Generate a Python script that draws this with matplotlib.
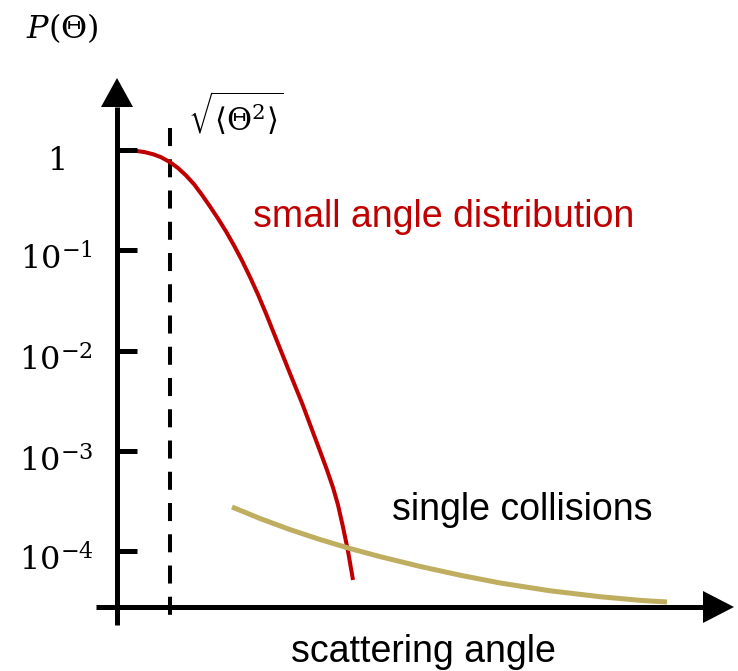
import numpy as np
import matplotlib.pyplot as plt
from matplotlib.patches import Polygon

plt.rcParams["font.family"] = ["Liberation Sans", "DejaVu Sans"]
plt.rcParams["mathtext.fontset"] = "dejavuserif"
plt.rcParams["lines.scale_dashes"] = False

W, H, DPI = 738, 671, 100

# multiple scattering: angle in units of the rms angle, probability on a log scale
small_theta = [0.000, 0.189, 0.377, 0.528, 0.679, 0.830, 1.000, 1.151, 1.302,
               1.453, 1.604, 1.755, 1.906, 2.057, 2.208, 2.358, 2.509, 2.660,
               2.811, 2.962, 3.113, 3.283, 3.491, 3.660, 3.830, 3.962, 4.075,
               4.170, 4.264, 4.358, 4.453]
small_p = [1.0, 0.993, 0.977, 0.951, 0.908, 0.848, 0.756, 0.661, 0.557,
           0.456, 0.356, 0.273, 0.207, 0.154, 0.1115, 0.0790, 0.0541, 0.0362,
           0.0234, 0.01478, 0.00934, 0.00557, 0.00299, 0.001725, 0.000994,
           0.000643, 0.000430, 0.000288, 0.0001735, 0.0001, 0.0000514]

# single collisions tail
single_theta = [2.170, 2.698, 3.264, 3.830, 4.396, 4.962, 5.717, 6.472,
                7.226, 8.170, 9.113, 9.868, 10.377]
single_p = [2.747e-4, 2.110e-4, 1.635e-4, 1.302e-4, 1.059e-4, 8.79e-5,
            7.02e-5, 5.74e-5, 4.80e-5, 4.01e-5, 3.50e-5, 3.22e-5, 3.10e-5]

rms_theta = 1.0
ytick_values = [1, 1e-1, 1e-2, 1e-3, 1e-4]
ytick_labels = [r"$1$", r"$10^{-1}$", r"$10^{-2}$", r"$10^{-3}$", r"$10^{-4}$"]

RED = "#C00000"
GOLD = "#BFAE5F"
AXIS_LW = 3.6

# pixel layout of the drawing
X0_PX, PX_PER_UNIT = 117, 53.0       # y axis position, pixels per rms angle
Y0_PX, PX_PER_DECADE = 150, 100.25   # P = 1 row, pixels per decade


def to_data(px, py):
    return (px - X0_PX) / PX_PER_UNIT, 10 ** (-(py - Y0_PX) / PX_PER_DECADE)


def fig_xy(px, py):
    return px / W, 1 - py / H


fig = plt.figure(figsize=(W / DPI, H / DPI), dpi=DPI)
ax = fig.add_axes([0, 0, 1, 1])
ax.set_yscale("log")
x_lo, y_top = to_data(0, 0)
x_hi, y_bot = to_data(W, H)
ax.set_xlim(x_lo, x_hi)
ax.set_ylim(y_bot, y_top)
ax.axis("off")

# axes with arrow heads
x_left, x_axis_y = to_data(96, 607)
x_tip, _ = to_data(703, 607)
_, y_bottom = to_data(117, 625)
_, y_tip = to_data(117, 107)
ax.plot([x_left, x_tip], [x_axis_y, x_axis_y], color="k", lw=AXIS_LW,
        solid_capstyle="butt", zorder=3)
ax.plot([0, 0], [y_bottom, y_tip], color="k", lw=AXIS_LW,
        solid_capstyle="butt", zorder=3)
for tri in ([(101, 107), (133, 107), (117, 78)],
            [(703, 591), (703, 623), (734, 607)]):
    ax.add_patch(Polygon([fig_xy(*p) for p in tri], closed=True,
                         transform=fig.transFigure, color="k", lw=0, zorder=3))

# y ticks and labels
tick_len = 20 / PX_PER_UNIT
for val, lab in zip(ytick_values, ytick_labels):
    ax.plot([0, tick_len], [val, val], color="k", lw=AXIS_LW,
            solid_capstyle="butt", zorder=4)
    ax.annotate(lab, xy=(0, val), xytext=(-61 * 0.72, -20 * 0.72),
                textcoords="offset points", ha="center", va="baseline",
                fontsize=23, color="k")

# rms angle marker
_, dash_top = to_data(0, 128)
ax.plot([rms_theta, rms_theta], [dash_top, y_bottom], color="k", lw=2.9,
        dashes=(13, 9.5), dash_capstyle="butt", zorder=2)

# distributions
ax.plot(small_theta, small_p, color=RED, lw=2.9, solid_capstyle="butt",
        solid_joinstyle="round", zorder=2)
ax.plot(single_theta, single_p, color=GOLD, lw=3.6, solid_capstyle="butt",
        solid_joinstyle="round", zorder=2)

# annotations
fig.text(*fig_xy(62, 38), r"$P(\Theta)$", fontsize=23, ha="center", va="baseline")
fig.text(*fig_xy(188, 131), r"$\sqrt{\langle\Theta^2\rangle}$", fontsize=22,
         ha="left", va="baseline")
fig.text(*fig_xy(253, 227), "small angle distribution", color=RED, fontsize=27,
         ha="left", va="baseline")
fig.text(*fig_xy(392, 520), "single collisions", fontsize=27, ha="left",
         va="baseline")
fig.text(*fig_xy(291, 662), "scattering angle", fontsize=27, ha="left",
         va="baseline")

fig.savefig("out.png", dpi=DPI)
